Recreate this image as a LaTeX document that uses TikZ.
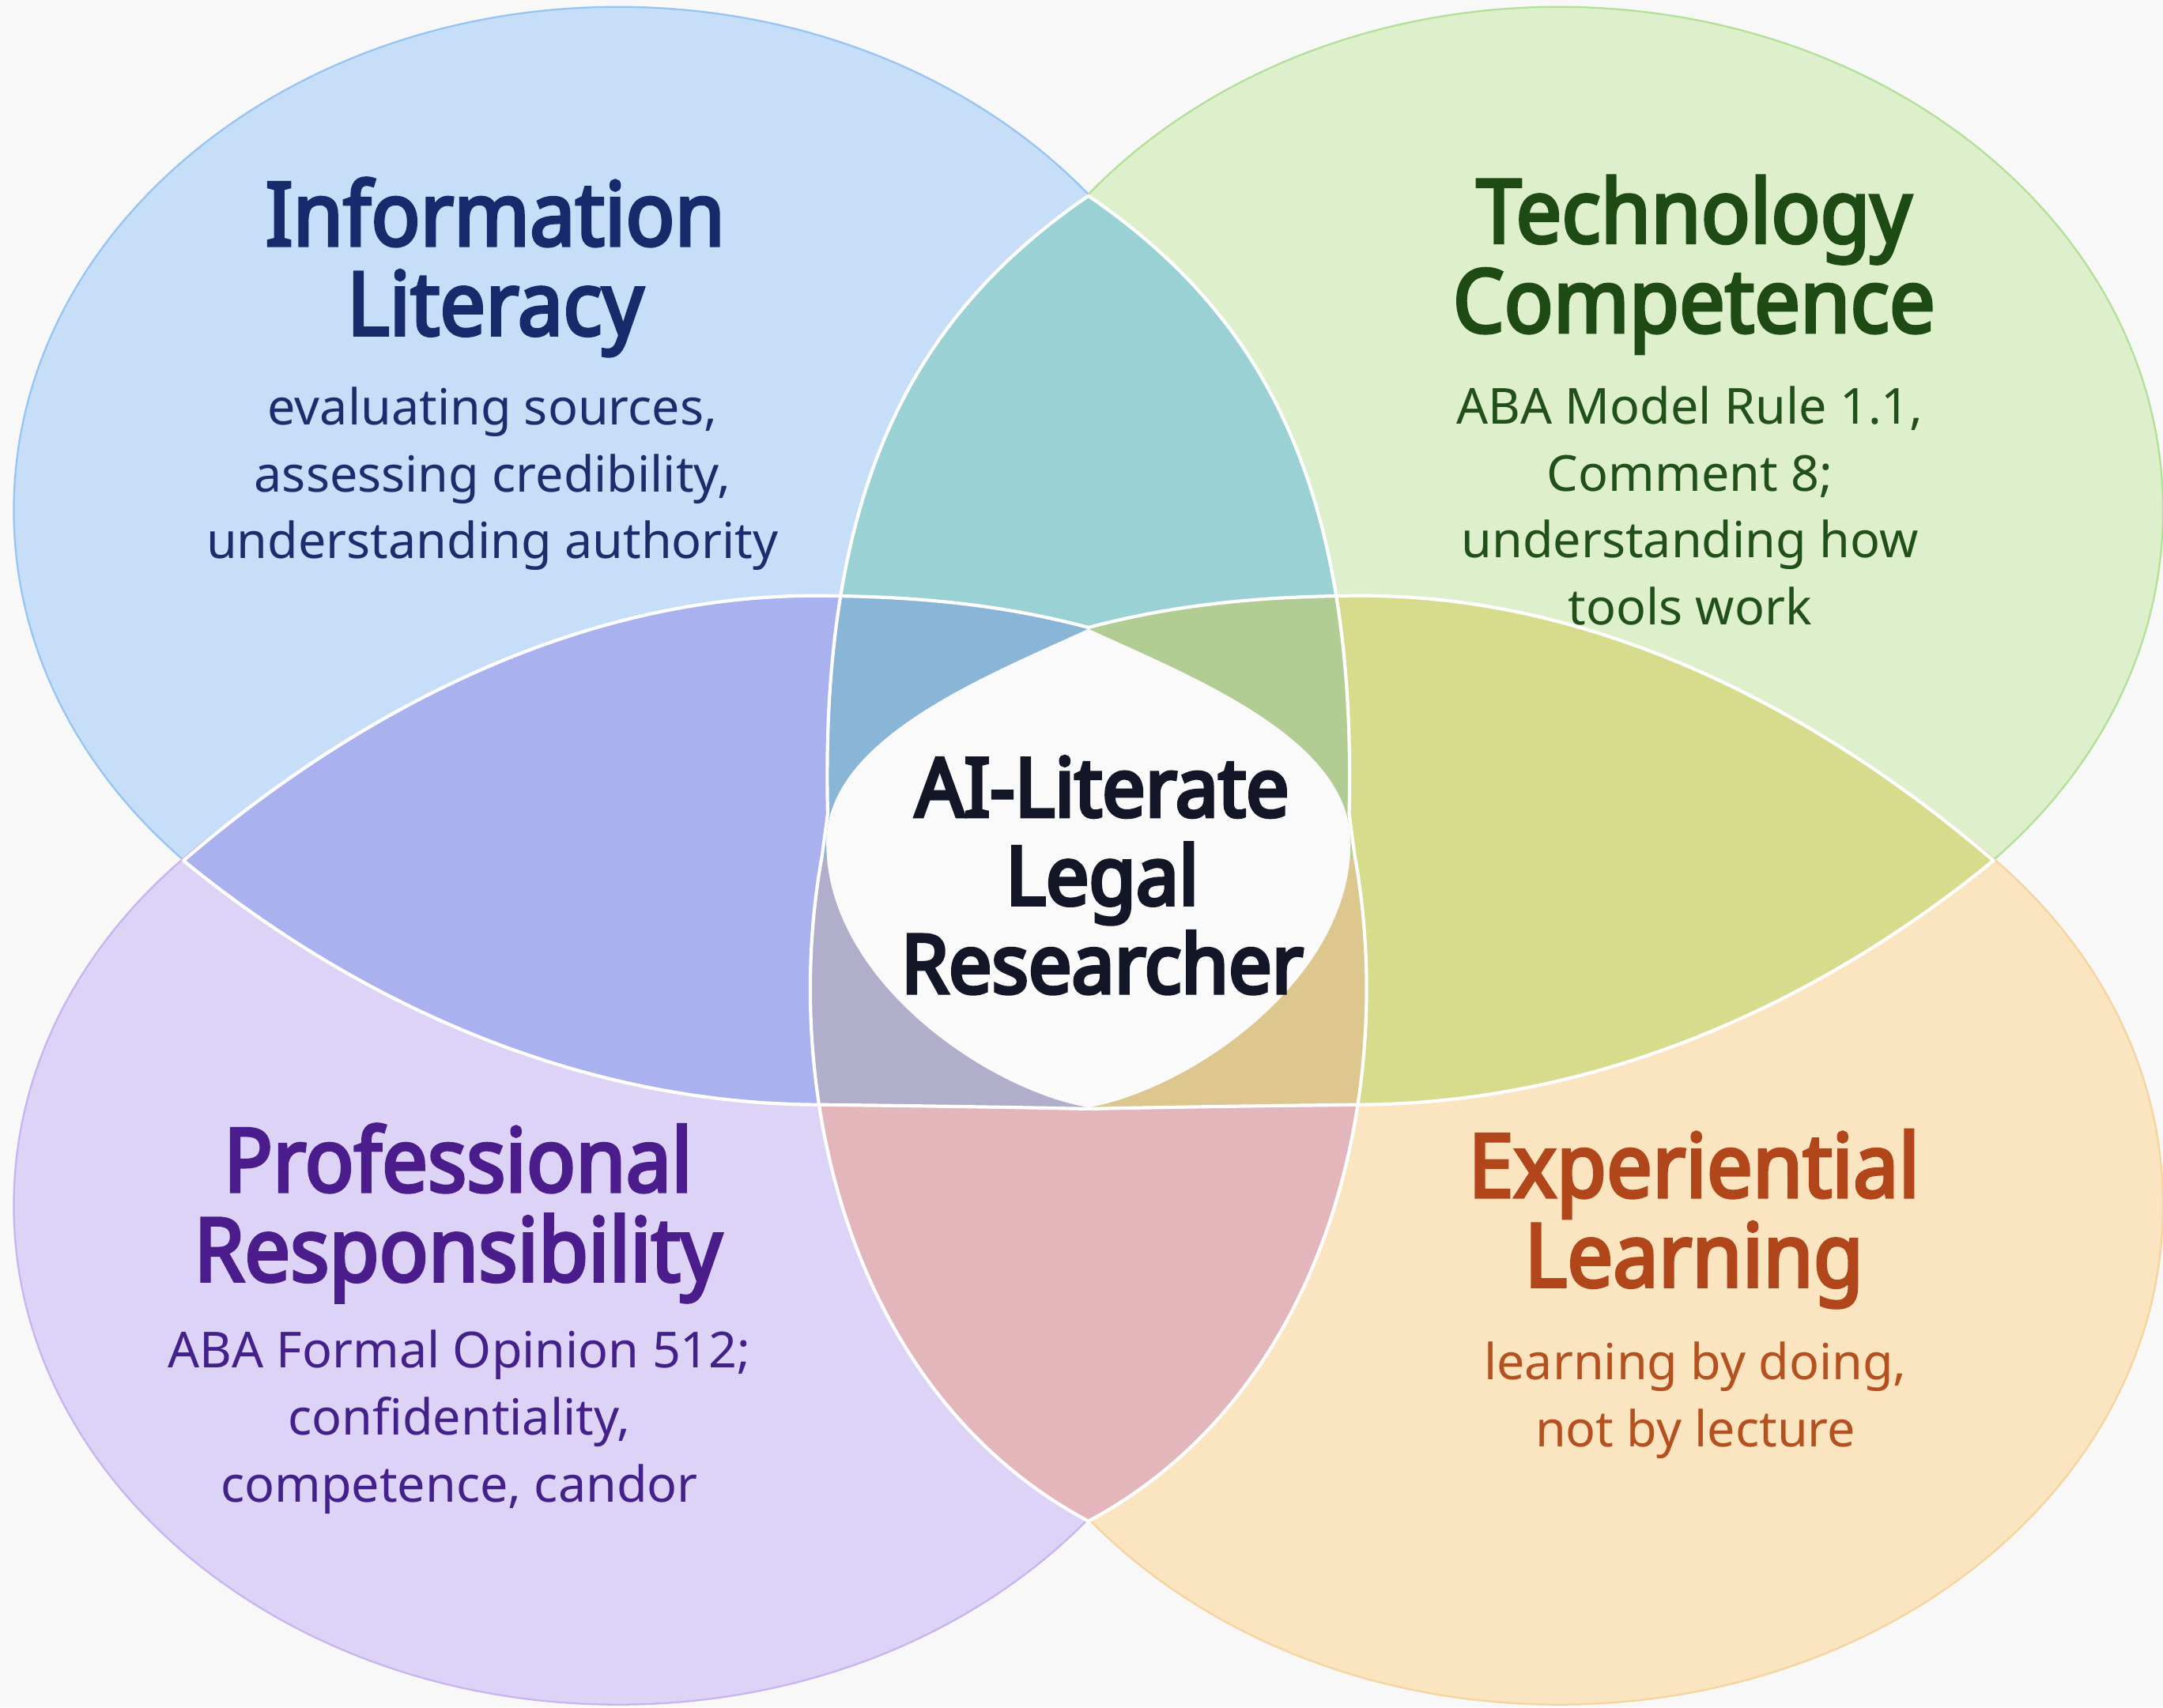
\documentclass[tikz,border=0pt]{standalone}
\usepackage{fontspec}
\setmainfont{Noto Sans}
\newfontfamily\headfont{Noto Sans}[FakeStretch=0.92, FakeBold=3.5]
\newfontfamily\hubfont{Noto Sans}[FakeStretch=0.94, FakeBold=4.5]
\newfontfamily\subfont{Noto Sans}

\tikzset{every picture/.style={line width=0.75pt}}
\tikzset{
  headtxt/.style={font=\headfont\fontsize{64}{65}\selectfont, align=center, anchor=base, inner sep=0pt},
  subtxt/.style={font=\subfont\fontsize{36}{48.5}\selectfont, align=center, anchor=base, inner sep=0pt},
  hubtxt/.style={font=\hubfont\fontsize{59}{64}\selectfont, align=center, anchor=base, inner sep=0pt},
  seam/.style={draw=white, line width=2.4pt, line join=round},
  rim/.style={line width=1.3pt}
}

% lens shapes (the vertical and horizontal overlap bands) and the hub
\newcommand\vlens{(789,142) .. controls (668,225) and (594,345) .. (600,590) -- (596,620) .. controls (565,790) and (615,1010) .. (789,1103) .. controls (963,1010) and (1013,790) .. (982,620) -- (978,590) .. controls (984,345) and (910,225) .. (789,142) -- cycle}
\newcommand\hlens{(133,624) .. controls (260,515) and (420,432) .. (590,432) .. controls (680,432) and (740,442) .. (789,455) .. controls (838,442) and (898,432) .. (988,432) .. controls (1158,432) and (1318,515) .. (1445,624) .. controls (1318,728) and (1158,800) .. (986,801) .. controls (898,802) and (838,803) .. (789,804) .. controls (740,803) and (680,802) .. (592,801) .. controls (420,800) and (260,728) .. (133,624) -- cycle}
\newcommand\hubpath{(789,456) .. controls (715,490) and (600,535) .. (599,610) .. controls (598,710) and (715,790) .. (789,803) .. controls (863,790) and (980,710) .. (979,610) .. controls (978,535) and (863,490) .. (789,456) -- cycle}

\begin{document}
\begin{tikzpicture}[x=1pt,y=1pt,yscale=-1,xscale=1]
\useasboundingbox (0,0) rectangle (1568,1238);
\fill[fill={rgb, 255:red, 248; green, 248; blue, 249 }] (0,0) rectangle (1568,1238);

%Shape: Ellipse
\draw[rim, draw={rgb, 255:red, 150; green, 196; blue, 245 }, fill={rgb, 255:red, 199; green, 222; blue, 248 }] (448,370) ellipse [x radius=438, y radius=365];
%Shape: Ellipse
\draw[rim, draw={rgb, 255:red, 178; green, 224; blue, 150 }, fill={rgb, 255:red, 221; green, 240; blue, 203 }] (1130,370) ellipse [x radius=438, y radius=365];
%Shape: Ellipse
\draw[rim, draw={rgb, 255:red, 200; green, 180; blue, 240 }, fill={rgb, 255:red, 221; green, 211; blue, 246 }] (448,874) ellipse [x radius=438, y radius=362];
%Shape: Ellipse
\draw[rim, draw={rgb, 255:red, 245; green, 212; blue, 158 }, fill={rgb, 255:red, 251; green, 228; blue, 192 }] (1130,874) ellipse [x radius=438, y radius=362];

% vertical band: teal above, rose below
\begin{scope}
\clip (0,0) rectangle (1568,622);
\fill[fill={rgb, 255:red, 154; green, 209; blue, 212 }] \vlens;
\end{scope}
\begin{scope}
\clip (0,622) rectangle (1568,1238);
\fill[fill={rgb, 255:red, 227; green, 182; blue, 188 }] \vlens;
\end{scope}

% horizontal band: periwinkle left, olive right
\begin{scope}
\clip (0,0) rectangle (789,1238);
\fill[fill={rgb, 255:red, 169; green, 177; blue, 238 }] \hlens;
\end{scope}
\begin{scope}
\clip (789,0) rectangle (1568,1238);
\fill[fill={rgb, 255:red, 214; green, 220; blue, 140 }] \hlens;
\end{scope}

% where both bands cross
\begin{scope}
\clip \vlens;
\clip \hlens;
\fill[fill={rgb, 255:red, 137; green, 181; blue, 214 }] (560,420) rectangle (789,622);
\fill[fill={rgb, 255:red, 178; green, 205; blue, 148 }] (789,420) rectangle (1020,622);
\fill[fill={rgb, 255:red, 176; green, 174; blue, 203 }] (560,622) rectangle (789,820);
\fill[fill={rgb, 255:red, 221; green, 199; blue, 142 }] (789,622) rectangle (1020,820);
\end{scope}

%Shape: hub
\fill[fill={rgb, 255:red, 250; green, 250; blue, 250 }] \hubpath;

% white seams
\draw[seam] \vlens;
\draw[seam] \hlens;

% Text Node
\node[headtxt, text={rgb, 255:red, 23; green, 42; blue, 107 }] (infoT) at (359,243) {Information\\Literacy};
% Text Node
\node[subtxt, text={rgb, 255:red, 28; green, 45; blue, 110 }] (infoS) at (357,405) {evaluating sources,\\assessing credibility,\\understanding authority};
% Text Node
\node[headtxt, text={rgb, 255:red, 30; green, 75; blue, 20 }] (techT) at (1228,241) {Technology\\Competence};
% Text Node
\node[subtxt, text={rgb, 255:red, 33; green, 80; blue, 26 }] (techS) at (1225,453) {ABA Model Rule 1.1,\\Comment 8;\\understanding how\\tools work};
% Text Node
\node[headtxt, text={rgb, 255:red, 74; green, 28; blue, 140 }] (profT) at (332,929) {Professional\\Responsibility};
% Text Node
\node[subtxt, text={rgb, 255:red, 67; green, 32; blue, 138 }] (profS) at (333,1089) {ABA Formal Opinion 512;\\confidentiality,\\competence, candor};
% Text Node
\node[headtxt, text={rgb, 255:red, 176; green, 70; blue, 26 }] (expT) at (1228,933) {Experiential\\Learning};
% Text Node
\node[subtxt, text={rgb, 255:red, 181; green, 80; blue, 31 }] (expS) at (1229,1049) {learning by doing,\\not by lecture};
% Text Node
\node[hubtxt, text={rgb, 255:red, 18; green, 22; blue, 38 }] (hubT) at (799,720) {AI-Literate\\Legal\\Researcher};

\end{tikzpicture}
\end{document}
